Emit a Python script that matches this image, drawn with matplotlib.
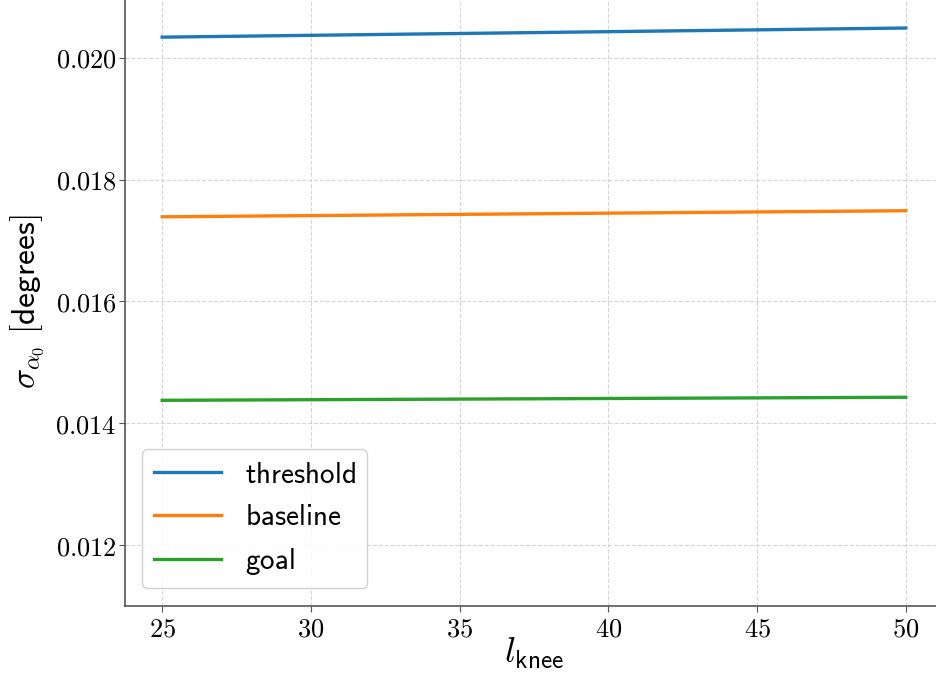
import matplotlib
matplotlib.use("Agg")
import matplotlib.pyplot as plt
from matplotlib.ticker import FormatStrFormatter

plt.rcParams['mathtext.fontset'] = 'cm'

# valores
l_knee = [25, 30, 35, 40, 45, 50]
threshold = [0.02034, 0.02037, 0.02040, 0.02043, 0.02046, 0.02049]
baseline = [0.01739, 0.01741, 0.01743, 0.01745, 0.01747, 0.01749]
goal = [0.014377, 0.014387, 0.014397, 0.014407, 0.014417, 0.014427]

fig = plt.figure(figsize=(9.37, 6.77), dpi=100)
ax = fig.add_axes([0.1334, 0.1049, 0.873, 0.8996])

ax.plot(l_knee, threshold, color='#1f77b4', lw=2.4, label=r'$\mathsf{threshold}$')
ax.plot(l_knee, baseline, color='#ff7f0e', lw=2.4, label=r'$\mathsf{baseline}$')
ax.plot(l_knee, goal, color='#2ca02c', lw=2.4, label=r'$\mathsf{goal}$')

ax.set_xlim(23.75, 51.25)
ax.set_ylim(0.011, 0.021)
ax.set_xticks([25, 30, 35, 40, 45, 50])
ax.set_yticks([0.012, 0.014, 0.016, 0.018, 0.020])
ax.xaxis.set_major_formatter(FormatStrFormatter(r'$%d$'))
ax.yaxis.set_major_formatter(FormatStrFormatter(r'$%.3f$'))
ax.tick_params(labelsize=19, color='#555555', length=4)
ax.tick_params(axis='y', pad=2)

ax.grid(True, linestyle='--', color='#cccccc', alpha=0.8, lw=0.8)
for s in ['top', 'right']:
    ax.spines[s].set_visible(False)
for s in ['left', 'bottom']:
    ax.spines[s].set_color('#555555')
    ax.spines[s].set_linewidth(1.2)

ax.set_xlabel(r'$l_{\mathsf{knee}}$', fontsize=26, labelpad=-5)
ax.set_ylabel(r'$\sigma_{\alpha_0}\ [\mathsf{degrees}]$', fontsize=24, labelpad=6)

ax.legend(loc='lower left', fontsize=21, handlelength=2.3, framealpha=0.9,
          borderaxespad=0.6)

plt.savefig('out.png', dpi=100)
plt.close()
